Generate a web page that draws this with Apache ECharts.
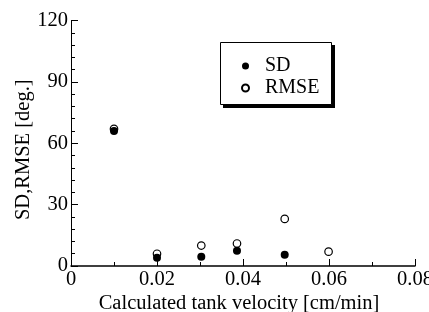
<!DOCTYPE html>
<html><head><meta charset="utf-8">
<script src="https://cdn.jsdelivr.net/npm/echarts@6/dist/echarts.min.js"></script>
<style>html,body{margin:0;padding:0;background:#fff}#c{width:429px;height:312px}</style>
</head><body><div id="c"></div>
<script>
const sdX = [0.01, 0.02, 0.0303, 0.0386, 0.0497];
const sdY = [66, 4, 4.5, 7.5, 5.5];
const rmseX = [0.01, 0.02, 0.0303, 0.0386, 0.0497, 0.0599];
const rmseY = [67, 6, 10, 11, 23, 7];
const xTicks = [0, 0.02, 0.04, 0.06, 0.08];
const yTicks = [0, 30, 60, 90, 120];

const font = 'Liberation Serif';
const chart = echarts.init(document.getElementById('c'), null, {renderer: 'canvas'});
chart.setOption({
  animation: false,
  backgroundColor: '#fff',
  grid: {left: 71, right: 14, top: 20.5, bottom: 46, outerBoundsMode: 'none', containLabel: false},
  graphic: [
    {type: 'rect', z: 1, shape: {x: 223, y: 45, width: 112, height: 63}, style: {fill: '#000'}},
    {type: 'rect', z: 2, shape: {x: 220.5, y: 42.5, width: 111, height: 62}, style: {fill: '#fff', stroke: '#000', lineWidth: 1}}
  ],
  legend: {
    orient: 'vertical', left: 220, top: 42, z: 10,
    padding: [14, 22, 12, 21],
    itemWidth: 7, itemHeight: 7, itemGap: 2,
    textStyle: {fontFamily: font, fontSize: 20, color: '#000', padding: [0, 0, 0, 11]},
    data: [{name: 'SD', icon: 'circle'}, {name: 'RMSE', icon: 'circle'}]
  },
  xAxis: {
    type: 'value', min: xTicks[0], max: xTicks[xTicks.length - 1], interval: 0.02,
    name: 'Calculated tank velocity [cm/min]', nameLocation: 'middle', nameGap: 27, nameMoveOverlap: false,
    nameTextStyle: {fontFamily: font, fontSize: 20.5, color: '#000', padding: [0, 8, 0, 0]},
    axisLine: {lineStyle: {color: '#000', width: 1.5}},
    axisTick: {inside: true, length: 7, lineStyle: {color: '#000', width: 1}},
    minorTick: {show: true, splitNumber: 2, length: 4, lineStyle: {color: '#000'}},
    splitLine: {show: false},
    axisLabel: {fontFamily: font, fontSize: 20.5, color: '#000', margin: 3,
      formatter: v => { const s = xTicks.find(t => Math.abs(t - v) < 1e-9); return s === 0 ? '0' : String(s); }}
  },
  yAxis: {
    type: 'value', min: yTicks[0], max: yTicks[yTicks.length - 1], interval: 30,
    name: 'SD,RMSE [deg.]', nameLocation: 'middle', nameGap: 37, nameRotate: 90, nameMoveOverlap: false,
    nameTextStyle: {fontFamily: font, fontSize: 20.5, color: '#000', padding: [0, 13, 0, 0]},
    axisLine: {show: true, lineStyle: {color: '#000', width: 1}},
    axisTick: {inside: true, length: 7, lineStyle: {color: '#000', width: 1}},
    minorTick: {show: true, splitNumber: 5, length: 4, lineStyle: {color: '#000'}},
    splitLine: {show: false},
    axisLabel: {fontFamily: font, fontSize: 20.5, color: '#000', margin: 3}
  },
  series: [
    {name: 'RMSE', type: 'scatter', symbol: 'circle', symbolSize: 7.5,
     itemStyle: {color: '#fff', borderColor: '#000', borderWidth: 1.2, opacity: 1},
     data: rmseX.map((x, i) => [x, rmseY[i]])},
    {name: 'SD', type: 'scatter', symbol: 'circle', symbolSize: 8,
     itemStyle: {color: '#000', opacity: 1},
     data: sdX.map((x, i) => [x, sdY[i]])}
  ]
});
</script></body></html>
